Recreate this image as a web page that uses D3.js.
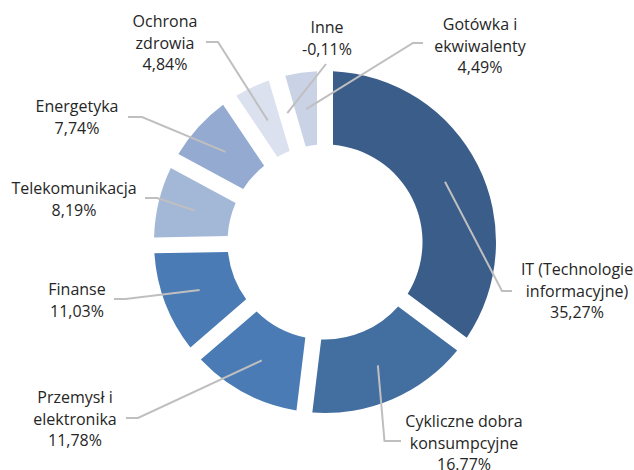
<!DOCTYPE html>
<html>
<head>
<meta charset="utf-8">
<script src="https://cdn.jsdelivr.net/npm/d3@7"></script>
<style>
  html, body { margin: 0; padding: 0; background: #ffffff; }
  svg { display: block; }
  text { font-family: "Open Sans", "DejaVu Sans", sans-serif; font-size: 16px; fill: #262626; }
</style>
</head>
<body>
<svg id="chart" width="634" height="470"></svg>
<script>
// ---- data ----
const categories = ["IT (Technologie informacyjne)", "Cykliczne dobra konsumpcyjne", "Przemysł i elektronika", "Finanse", "Telekomunikacja", "Energetyka", "Ochrona zdrowia", "Inne", "Gotówka i ekwiwalenty"];
const values = [35.27, 16.77, 11.78, 11.03, 8.19, 7.74, 4.84, -0.11, 4.49];
const valueLabels = ["35,27%", "16.77%", "11,78%", "11,03%", "8,19%", "7,74%", "4,84%", "-0,11%", "4,49%"];
const labelLines = [
  ["IT (Technologie", "informacyjne)"],
  ["Cykliczne dobra", "konsumpcyjne"],
  ["Przemysł i", "elektronika"],
  ["Finanse"],
  ["Telekomunikacja"],
  ["Energetyka"],
  ["Ochrona", "zdrowia"],
  ["Inne"],
  ["Gotówka i", "ekwiwalenty"]
];
const colors = ["#3a5d8a", "#436ea0", "#4a7bb5", "#4a7bb5", "#a3b7d7", "#94aad0", "#dbe1ee", "#d2dae9", "#cad3e6"];

// ---- layout (label placement) ----
const labelAnchor = [[577, 275], [464, 427], [75, 403], [77, 295], [74, 194], [77, 112], [165, 27], [327, 33], [480, 30]];
const leaderElbow = [[502, 291, 512], [384.5, 441, 401], [138, 418, 126], [125.5, 299, 114], [157, 198, 145], [142, 117, 128], [218, 42, 206], [326, 64, 326], [413, 43, 423]];

const W = 634, H = 470;
const cx = 325, cy = 242;
const rInner = 97.5, rOuter = 171;
const gap = 16, padR = 100;
const lineH = 21.5;

const svg = d3.select("#chart");
const g = svg.append("g").attr("transform", `translate(${cx},${cy})`);

const data = categories.map((c, i) => ({ name: c, value: values[i], idx: i }));

const pie = d3.pie()
  .sort(null)
  .value(d => Math.abs(d.value))
  .startAngle(0)
  .endAngle(2 * Math.PI);

const arcs = pie(data);

const arc = d3.arc()
  .innerRadius(rInner)
  .outerRadius(rOuter)
  .padRadius(padR)
  .padAngle(2 * Math.asin(gap / 2 / padR));

const arcPlain = d3.arc().innerRadius(rInner).outerRadius(rOuter);

g.selectAll("path.slice")
  .data(arcs)
  .join("path")
  .attr("class", "slice")
  .attr("d", arc)
  .attr("fill", d => colors[d.data.idx]);

// leader lines
const leaders = svg.append("g");
arcs.forEach(d => {
  const i = d.data.idx;
  const c = arcPlain.centroid(d);
  const p0 = [cx + c[0], cy + c[1]];
  const e = leaderElbow[i];
  const pts = [p0, [e[0], e[1]], [e[2], e[1]]];
  leaders.append("path")
    .attr("d", d3.line()(pts))
    .attr("fill", "none")
    .attr("stroke", "#bfbfbf")
    .attr("stroke-width", 2);
});

// labels
const labels = svg.append("g");
categories.forEach((c, i) => {
  const lines = labelLines[i].concat([valueLabels[i]]);
  const t = labels.append("text")
    .attr("text-anchor", "middle")
    .attr("x", labelAnchor[i][0])
    .attr("y", labelAnchor[i][1]);
  lines.forEach((ln, k) => {
    t.append("tspan")
      .attr("x", labelAnchor[i][0])
      .attr("y", labelAnchor[i][1] + k * lineH)
      .text(ln);
  });
});
</script>
</body>
</html>
